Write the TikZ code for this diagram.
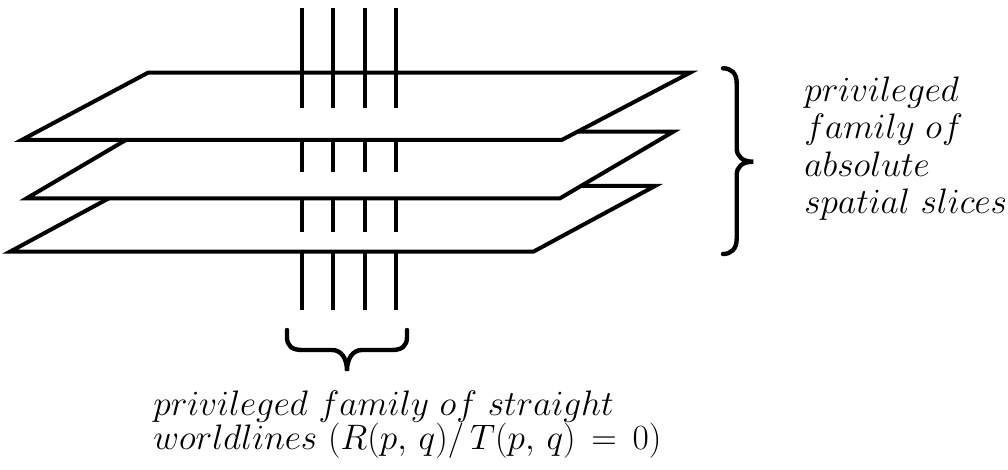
\RequirePackage{fix-cm}
\documentclass[tikz,border=0pt]{standalone}
\usepackage{fontspec}
\begin{document}
\begin{tikzpicture}[x=0.5pt,y=-0.5pt,
  plane/.style={draw=black,fill=white,line width=2pt},
  wline/.style={draw=black,line width=2pt},
  bracepath/.style={draw=black,line width=2.2pt,line cap=round},
  lbl/.style={anchor=base west,inner sep=0pt,font=\fontsize{17.7pt}{17.7pt}\selectfont}]
\useasboundingbox (0,0) rectangle (1008,470);
% slices (bottom to top)
\draw[plane] (10,251.7) -- (533.3,251.7) -- (655,186) -- (131.6,186) -- cycle;
\draw[plane] (26.7,198.3) -- (560,198.3) -- (673.3,131.7) -- (140,131.7) -- cycle;
\draw[plane] (21.7,140) -- (561.7,140) -- (690,72.7) -- (148,72.7) -- cycle;
% worldlines
\foreach \x in {302.3,333.3,365,396.3}{
  \draw[wline] (\x,8.3) -- (\x,107.7);
  \draw[wline] (\x,140) -- (\x,172.3);
  \draw[wline] (\x,198.3) -- (\x,232.3);
  \draw[wline] (\x,251.7) -- (\x,310);
}
% braces
\draw[bracepath] (287,330) -- (287,337) .. controls (287,346) and (292,350) .. (302,350) -- (332,350) .. controls (341,350) and (347,358) .. (347,371) .. controls (347,358) and (353,350) .. (362,350) -- (392,350) .. controls (402,350) and (407,346) .. (407,337) -- (407,330);
\draw[bracepath] (723,68.3) .. controls (731,68.3) and (736.7,73) .. (736.7,83) -- (736.7,148) .. controls (736.7,156) and (742,161.7) .. (753.3,161.7) .. controls (742,161.7) and (736.7,167) .. (736.7,175) -- (736.7,239) .. controls (736.7,249) and (731,254) .. (723,254);
% labels
\node[lbl] (r1) at (804,101.7) {$privileged$};
\node[lbl] (r2) at (804,138.9) {$family\ of$};
\node[lbl] (r3) at (804,176.1) {$absolute$};
\node[lbl] (r4) at (804,213.3) {$spatial\ slices$};
\node[lbl] (b1) at (153,416) {$privileged\ family\ of\ straight$};
\node[lbl] (b2) at (153,449.3) {$worldlines\ (R(p,\,q)/\,T(p,\,q)\,=\,0)$};
\end{tikzpicture}
\end{document}
